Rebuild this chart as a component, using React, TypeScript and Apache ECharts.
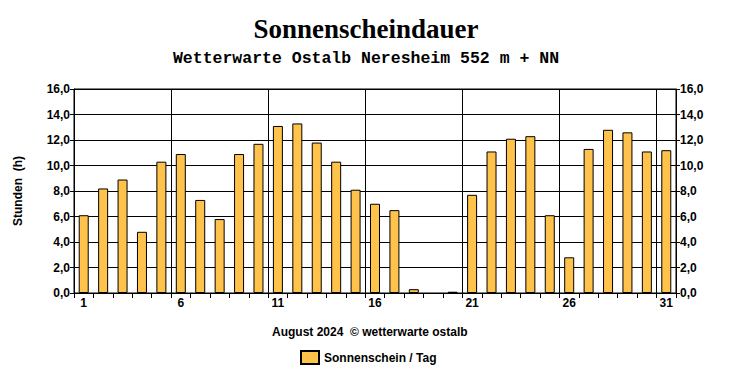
import React, { useEffect, useRef } from "react";
import * as echarts from "echarts";

const days = Array.from({ length: 31 }, (_, i) => String(i + 1));
const sunshine = [6.1, 8.2, 8.9, 4.8, 10.3, 10.9, 7.3, 5.8, 10.9, 11.7, 13.1, 13.3, 11.8, 10.3, 8.1, 7.0, 6.5, 0.3, 0, 0.1, 7.7, 11.1, 12.1, 12.3, 6.1, 2.8, 11.3, 12.8, 12.6, 11.1, 11.2];
const titleText = "Sonnenscheindauer";
const subtitleText = "Wetterwarte Ostalb Neresheim 552 m + NN";
const footerText = "August 2024  \u00a9 wetterwarte ostalb";
const seriesName = "Sonnenschein / Tag";
const yName = "Stunden  (h)";

const fmt = (v: number) => v.toFixed(1).replace(".", ",");

export default function App() {
  const ref = useRef<HTMLDivElement>(null);
  useEffect(() => {
    const chart = echarts.init(ref.current!, null, { renderer: "svg" });
    const labelFont = { fontFamily: "Liberation Sans, Arial", fontWeight: "bold" as const, fontSize: 12, color: "#000" };
    const yAxisCommon = {
      type: "value" as const,
      min: 0,
      max: 16,
      interval: 2,
      axisLine: { show: true, lineStyle: { color: "#000", width: 1 } },
      axisTick: { show: true, length: 4, lineStyle: { color: "#000" } },
      axisLabel: { ...labelFont, margin: 4, formatter: (v: number) => fmt(v) },
    };
    chart.setOption({
      animation: false,
      backgroundColor: "#fff",
      title: [
        {
          text: titleText,
          left: "center",
          top: 10,
          textStyle: { fontFamily: "Liberation Serif, Times New Roman", fontWeight: "bold", fontSize: 27, color: "#000" },
        },
        {
          text: subtitleText,
          left: "center",
          top: 45,
          textStyle: { fontFamily: "Liberation Mono, Courier New", fontWeight: "bold", fontSize: 16.5, color: "#000" },
        },
        {
          text: footerText,
          left: 267,
          top: 321,
          textStyle: { ...labelFont },
        },
      ],
      legend: {
        data: [seriesName],
        left: 295,
        top: 345,
        itemWidth: 18,
        itemHeight: 13,
        itemGap: 8,
        textStyle: { ...labelFont },
        icon: "rect",
      },
      graphic: [
        {
          type: "text",
          x: 18,
          y: 191,
          rotation: Math.PI / 2,
          style: {
            text: yName,
            fontFamily: "Liberation Sans, Arial",
            fontWeight: "bold",
            fontSize: 12,
            fill: "#000",
            align: "center",
            verticalAlign: "middle",
          },
        },
      ],
      grid: { left: 74, right: 56, top: 89, bottom: 87, show: true, borderColor: "#000", borderWidth: 1 },
      xAxis: {
        type: "category",
        data: days,
        boundaryGap: true,
        axisLine: { show: true, lineStyle: { color: "#000" } },
        axisTick: { show: true, interval: 0, length: 5, alignWithLabel: false, lineStyle: { color: "#000" } },
        axisLabel: {
          ...labelFont,
          margin: 4,
          interval: (index: number) => index % 5 === 0,
        },
        splitLine: {
          show: true,
          interval: (index: number) => index > 0 && index % 5 === 0,
          lineStyle: { color: "#000", width: 1 },
        },
      },
      yAxis: [
        { ...yAxisCommon, position: "left", splitLine: { show: true, lineStyle: { color: "#000", width: 1 } } },
        { ...yAxisCommon, position: "right", splitLine: { show: false } },
      ],
      series: [
        {
          name: seriesName,
          type: "bar",
          data: sunshine.map((v) => (v === 0 ? { value: v, itemStyle: { borderWidth: 0, opacity: 0 } } : v)),
          barWidth: 10,
          itemStyle: { color: "#FFC24A", borderColor: "#000", borderWidth: 1 },
        },
      ],
    });
    return () => chart.dispose();
  }, []);
  return <div ref={ref} style={{ width: 732, height: 380, position: "absolute", left: 0, top: 0 }} />;
}
